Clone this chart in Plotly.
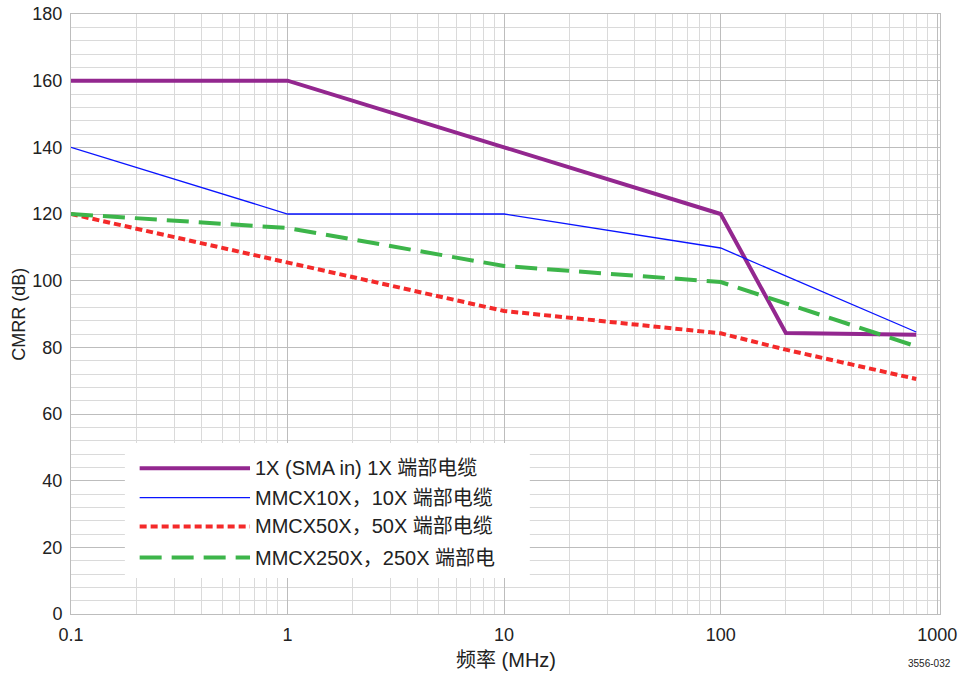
import plotly.graph_objects as go
import numpy as np

# Frequency (MHz) and CMRR (dB) per probe configuration
freq_1x = [0.1, 1, 10, 100, 200, 800]
cmrr_1x = [160, 160, 140, 120, 84.3, 83.8]

freq_10x = [0.1, 1, 10, 100, 800]
cmrr_10x = [140, 120, 120, 109.8, 84.6]

freq_50x = [0.1, 1, 10, 100, 200, 800]
cmrr_50x = [120, 105.3, 90.9, 84.2, 79.3, 70.5]

freq_250x = [0.1, 1, 10, 100, 800]
cmrr_250x = [120, 115.8, 104.4, 99.6, 80.3]

names = [
    "1X (SMA in) 1X 端部电缆",
    "MMCX10X，10X 端部电缆",
    "MMCX50X，50X 端部电缆",
    "MMCX250X，250X 端部电",
]
colors = ["#93278F", "#0A14FF", "#F42A2A", "#3DB54A"]
widths = [4, 1.3, 4, 4]
dashes = ["solid", "solid", "7px,4px", "22px,10px"]

x_tickvals = [0.1, 1, 10, 100, 1000]
x_ticktext = ["0.1", "1", "10", "100", "1000"]

FONT = "Liberation Sans, Arial, Noto Sans CJK SC, sans-serif"

fig = go.Figure()
series = [(freq_1x, cmrr_1x), (freq_10x, cmrr_10x), (freq_50x, cmrr_50x), (freq_250x, cmrr_250x)]
for (fx, cy), name, c, w, d in zip(series, names, colors, widths, dashes):
    fig.add_trace(go.Scatter(x=fx, y=cy, mode="lines", name=name,
                             line=dict(color=c, width=w, dash=d), showlegend=False))

minor_x = [m * 10.0 ** e for e in range(-1, 3) for m in range(2, 10)]

fig.update_xaxes(
    type="log", range=[-1, np.log10(1030)], automargin=False,
    tickmode="array", tickvals=x_tickvals, ticktext=x_ticktext,
    showgrid=True, gridcolor="#BDBDBD", gridwidth=1.2,
    minor=dict(tickmode="array", tickvals=minor_x, showgrid=True,
               gridcolor="#DADADA", gridwidth=1),
    showline=True, linecolor="#BDBDBD", mirror=True, zeroline=False,
    ticks="", ticklabelstandoff=4, tickfont=dict(family=FONT, size=18, color="#222"),
)
fig.update_yaxes(
    range=[0, 180], dtick=20, tick0=0, automargin=False,
    showgrid=True, gridcolor="#BDBDBD", gridwidth=1.2,
    minor=dict(dtick=4, showgrid=True, gridcolor="#DADADA", gridwidth=1),
    showline=True, linecolor="#BDBDBD", mirror=True, zeroline=False,
    ticks="", ticklabelstandoff=4, tickfont=dict(family=FONT, size=18, color="#222"),
)

# Legend panel drawn in paper coordinates
shapes = [dict(type="rect", xref="paper", yref="paper", x0=0.062, x1=0.528,
               y0=0.06, y1=0.285, fillcolor="white", line=dict(width=0), layer="above")]
annotations = []
row_y = [0.243, 0.194, 0.146, 0.094]
for yy, name, c, w, d in zip(row_y, names, colors, widths, dashes):
    shapes.append(dict(type="line", xref="paper", yref="paper", x0=0.079, x1=0.206,
                       y0=yy, y1=yy, line=dict(color=c, width=w, dash=d), layer="above"))
    annotations.append(dict(xref="paper", yref="paper", x=0.209, y=yy, text=name,
                            showarrow=False, xanchor="left", yanchor="middle",
                            font=dict(family=FONT, size=20, color="#222")))

# Axis titles
annotations.append(dict(xref="paper", yref="paper", x=0.5, y=-0.076, text="频率 (MHz)",
                        showarrow=False, xanchor="center", yanchor="middle",
                        font=dict(family=FONT, size=20, color="#222")))
annotations.append(dict(xref="paper", yref="paper", x=-0.06, y=0.5, text="CMRR (dB)",
                        showarrow=False, xanchor="center", yanchor="middle", textangle=-90,
                        font=dict(family=FONT, size=18, color="#222")))
annotations.append(dict(xref="paper", yref="paper", x=1.015, y=-0.082, text="3556-032",
                        showarrow=False, xanchor="right", yanchor="middle",
                        font=dict(family=FONT, size=10, color="#222")))

fig.update_layout(
    width=967, height=677,
    margin=dict(l=71, r=27, t=14, b=63),
    paper_bgcolor="white", plot_bgcolor="white",
    shapes=shapes, annotations=annotations,
)

fig.write_html("out.html")
